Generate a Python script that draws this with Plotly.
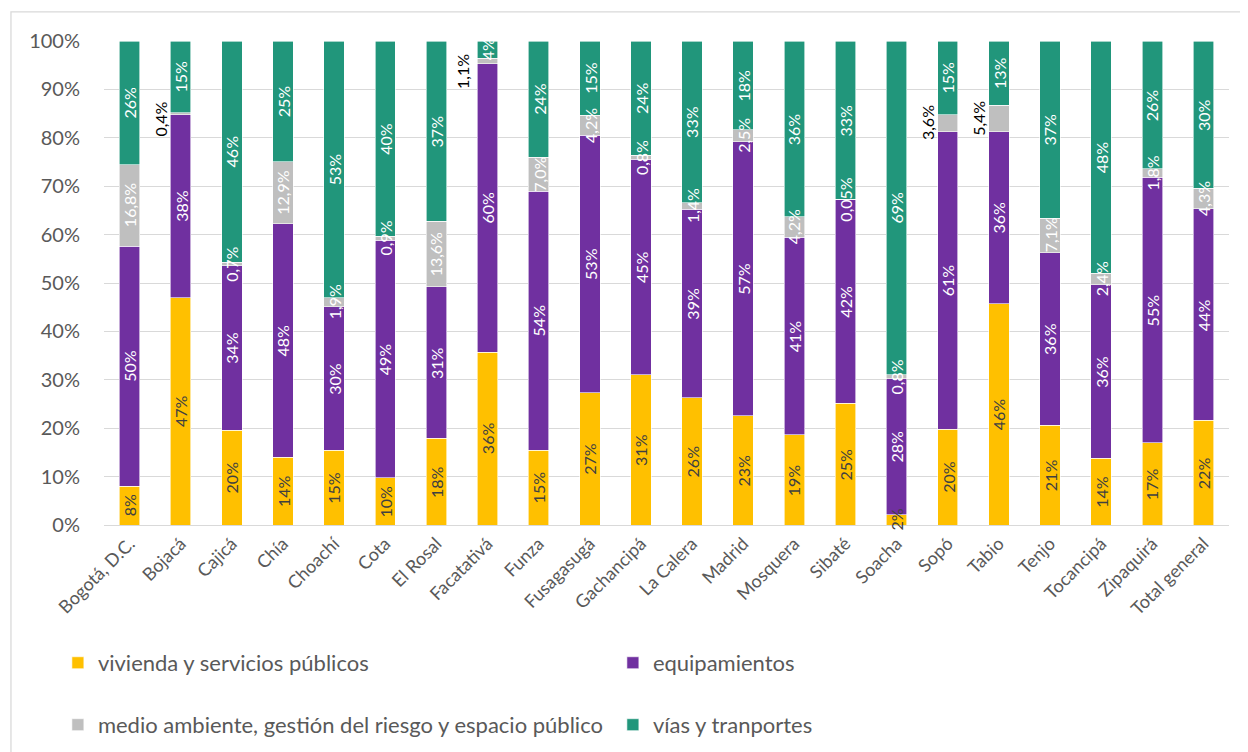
import plotly.graph_objects as go

categories = ["Bogotá, D.C.", "Bojacá", "Cajicá", "Chía", "Choachí", "Cota", "El Rosal",
              "Facatativá", "Funza", "Fusagasugá", "Gachancipá", "La Calera", "Madrid",
              "Mosquera", "Sibaté", "Soacha", "Sopó", "Tabio", "Tenjo", "Tocancipá",
              "Zipaquirá", "Total general"]

vivienda = [8.0, 47.0, 19.6, 14.0, 15.4, 9.8, 17.9, 35.7, 15.4, 27.3, 31.0, 26.3, 22.6,
            18.6, 25.2, 2.1, 19.8, 45.7, 20.6, 13.8, 17.0, 21.6]
equipamientos = [49.6, 37.8, 34.0, 48.2, 29.7, 49.0, 31.3, 59.6, 53.6, 53.2, 44.6, 38.9,
                 56.6, 40.9, 42.1, 28.1, 61.4, 35.6, 35.7, 35.8, 54.8, 43.7]
medio_ambiente = [16.8, 0.4, 0.7, 12.9, 1.9, 0.9, 13.6, 1.1, 7.0, 4.2, 0.8, 1.4, 2.5,
                  4.2, 0.05, 0.8, 3.6, 5.4, 7.1, 2.4, 1.8, 4.3]
vias = [25.6, 14.8, 45.7, 24.9, 53.0, 40.3, 37.2, 3.6, 24.0, 15.3, 23.6, 33.4, 18.3,
        36.3, 32.65, 69.0, 15.2, 13.3, 36.6, 48.0, 26.4, 30.4]

series_names = ["vivienda y servicios públicos", "equipamientos",
                "medio ambiente, gestión del riesgo y espacio público", "vías y tranportes"]
y_ticks = [0, 10, 20, 30, 40, 50, 60, 70, 80, 90, 100]
y_tick_labels = ["0%", "10%", "20%", "30%", "40%", "50%", "60%", "70%", "80%", "90%", "100%"]

FONT = "Lato"
colors = ["#FFC000", "#7030A0", "#BFBFBF", "#21967B"]
label_colors = ["#404040", "white", "white", "white"]
all_series = [vivienda, equipamientos, medio_ambiente, vias]
legend_ids = ["legend", "legend", "legend2", "legend2"]


def fmt(v, decimals):
    if decimals == 0:
        return f"{round(v)}%"
    if v < 0.1:
        decimals = 2
    return f"{v:.{decimals}f}".replace(".", ",") + "%"


fig = go.Figure()
for name, vals, col, lg in zip(series_names, all_series, colors, legend_ids):
    fig.add_trace(go.Bar(
        x=categories, y=vals, name=name, marker=dict(color=col, line=dict(color="white", width=0.6)),
        legend=lg, hoverinfo="skip"))

# labels moved outside of the bar (grey series) : category -> (y, xshift)
moved = {"Bojacá": (83.9, -20), "Facatativá": (93.7, -25), "Sopó": (83.2, -20), "Tabio": (84.1, -20)}

annotations = []
for si, vals in enumerate(all_series):
    dec = 1 if si == 2 else 0
    for ci, cat in enumerate(categories):
        base = sum(all_series[k][ci] for k in range(si))
        txt = fmt(vals[ci], dec)
        if si == 2 and cat in moved:
            yy, xs = moved[cat]
            annotations.append(dict(x=cat, y=yy, xshift=xs, text=txt, textangle=-90, showarrow=False,
                                    font=dict(family=FONT, size=16, color="black")))
            continue
        annotations.append(dict(x=cat, y=base + vals[ci] / 2, text=txt, textangle=-90, showarrow=False,
                                font=dict(family=FONT, size=16, color=label_colors[si])))

fig.update_layout(
    barmode="stack",
    bargap=0.6,
    width=1248, height=752,
    margin=dict(l=96, r=27, t=33, b=235, autoexpand=False),
    paper_bgcolor="white", plot_bgcolor="white",
    font=dict(family=FONT, color="#595959"),
    annotations=annotations,
    legend=dict(orientation="h", x=-0.041, xanchor="left", y=-0.285, yanchor="middle",
                entrywidth=510, entrywidthmode="pixels", font=dict(size=22, color="#595959"),
                traceorder="normal"),
    legend2=dict(orientation="h", x=-0.041, xanchor="left", y=-0.413, yanchor="middle",
                 entrywidth=510, entrywidthmode="pixels", font=dict(size=22, color="#595959"),
                 traceorder="normal"),
    shapes=[dict(type="rect", xref="paper", yref="paper", x0=-0.0827, x1=1.03, y0=-0.52, y1=1.06,
                 line=dict(color="#D9D9D9", width=1.3), fillcolor="rgba(0,0,0,0)", layer="below")],
)
fig.update_yaxes(range=[0, 100], tickvals=y_ticks, ticktext=y_tick_labels, showgrid=True,
                 gridcolor="#D9D9D9", gridwidth=1.3, zeroline=False,
                 tickfont=dict(family=FONT, size=20, color="#595959"), ticklabelstandoff=23)
fig.update_xaxes(tickangle=-45, showline=True, linecolor="#D9D9D9", linewidth=1.3,
                 tickfont=dict(family=FONT, size=18, color="#595959"))

fig.write_html("out.html")
